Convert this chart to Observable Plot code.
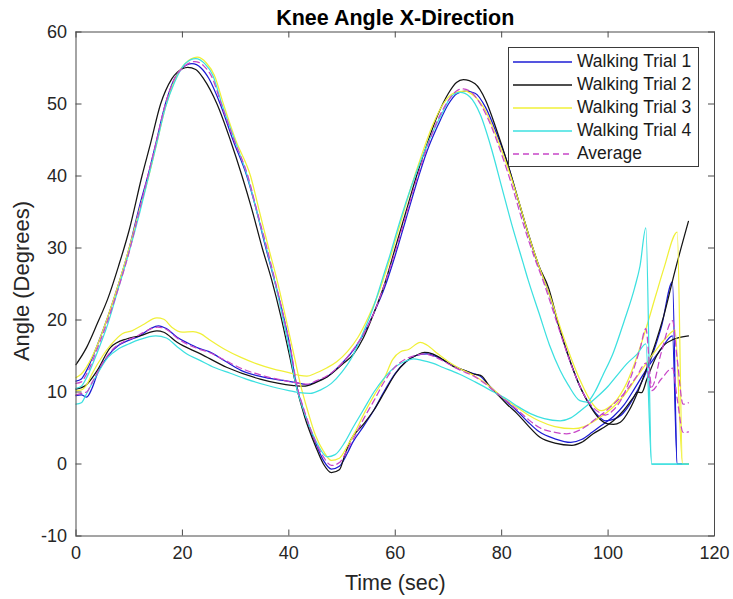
<!DOCTYPE html>
<html><head><meta charset="utf-8">
<script src="https://cdn.jsdelivr.net/npm/d3@7"></script>
<script src="https://cdn.jsdelivr.net/npm/@observablehq/plot@0.6"></script>
<style>
body{margin:0;background:#fff;}
#wrap{position:relative;width:733px;height:599px;font-family:"Liberation Sans",Arial,Helvetica,sans-serif;}
#legend{position:absolute;left:508px;top:47px;width:191px;height:120px;box-sizing:border-box;border:1px solid #3a3a3a;background:#fff;padding-top:2px;}
.row{display:flex;align-items:center;height:23px;}
.row svg{margin-left:4px;margin-right:5px;display:block;}
.row span{font-size:17.5px;color:#1a1a1a;white-space:nowrap;}
</style></head><body><div id="wrap"><div id="legend"></div></div>
<script>
// ---- data: [time (sec), angle (deg)] ----
const trial1P = [[0,11.5],[1,11.8],[2,13],[4,16.5],[6,20.5],[8,25],[10,30],[12,36],[13.5,40],[15,44.5],[16.8,50],[18.5,53.5],[20,55],[21.8,55.6],[23.5,55],[25,53.5],[27.1,50],[29.5,45],[32.1,40],[34,35],[35.5,30.5],[37.3,25.5],[39,20.5],[40.3,16],[41.3,11.4],[43,7],[45,3],[46.5,0.5],[48,-0.7],[49.5,-0.3],[51,1.5],[52,3],[54,5.2],[56,7.5],[58,10.2],[60,12.6],[62,14.2],[64,15.1],[66,15.3],[68,14.8],[70,14],[72,13.3],[74.5,12.6],[76,12.2],[77.5,11],[79,9.9],[81,8.6],[83,7.3],[85,5.8],[87,4.5],[90,3.5],[93,3.0],[95,3.4],[97,4.4],[99,5.5],[101,6.6],[103,8.2],[105,10.5],[106.5,12.3],[108,14],[110,16],[112.1,17.8],[113,0],[115.1,0]];
const trial1Q = [[0,9.5],[1,9.6],[2,9.3],[3,10.5],[4,12.5],[6,15],[8,16.5],[10,17.2],[12,17.8],[14,18.8],[15.5,19.2],[17,18.8],[19,17.6],[21,16.8],[23,16.1],[25,15.6],[28,14.3],[31,13],[35,12.1],[39,11.6],[42,11.2],[43.5,11],[45,11.4],[47.5,12.3],[50,14],[52.5,16.2],[54,18],[56,21],[58,24.5],[60,29],[62,34],[64,39],[66,43.5],[68,47],[70,50],[71.5,51.4],[73.1,51.8],[75,51.5],[77,49.5],[79,46],[81,42],[83,37],[85,32],[87,27.5],[89,23.5],[91,18.5],[93,14],[95,10.3],[96.5,8.3],[98,6.8],[99.5,6],[101,6.2],[102.5,6.8],[104,8.2],[105.5,10.2],[107,12.5],[108.5,15.5],[110,19],[112.1,25.3],[113,0],[115.1,0]];
const trial2P = [[0,13.8],[2,16.2],[4,19.5],[6,23],[8,27.5],[10,32.5],[12.4,40],[14,44.5],[15.9,50],[18,53.5],[20,54.9],[21,55.1],[22.5,54.8],[24,53.5],[26.5,50],[29,45],[31.2,40],[33,35.5],[35,30],[36.8,25.5],[38.5,20.5],[40,15.5],[41.2,11.4],[43,6.5],[45,2.5],[46.5,0],[48,-1.2],[49.5,-0.8],[50.5,1.2],[51.6,3.3],[54,5.5],[56,7.5],[58,10],[60,12.5],[62,14.2],[64,15.1],[65.5,15.5],[67,15.3],[69,14.5],[71,13.5],[73,13],[74.7,12.5],[75.5,12.4],[76.3,12.2],[77.5,11],[79.1,9.75],[81,8.3],[82.9,7],[85,5.3],[87.2,3.7],[90,2.9],[93.2,2.6],[95,3],[97.2,4.2],[99,5],[101,6.0],[103,7.5],[104.8,9.3],[105.5,10],[106.3,9.9],[107.3,11.8],[109.1,15],[110.5,16.5],[112.3,17.3],[115.1,17.8]];
const trial2Q = [[0,10.4],[1.8,10.9],[4,13],[6.5,16.2],[9.6,17.4],[12,17.8],[15.2,18.5],[16.5,18.3],[19,16.9],[23.4,15.3],[28.4,13.4],[34.6,11.8],[40.9,10.9],[42.8,10.8],[45,11.3],[47.2,12.1],[50,13.8],[52.2,15.3],[54,17.5],[56,21],[58,25],[60,30],[62,35],[64,40],[66,44.5],[68,48.5],[70,51.5],[71.5,53],[72.8,53.4],[75,52.8],[77,50.5],[79,46.5],[81,42],[83,37],[85,32],[87,27.5],[88.8,24.5],[91,18.5],[93,14],[95,10.3],[96.5,8.2],[98,6.6],[99.8,5.6],[101,5.5],[102.3,5.8],[104,7.5],[105.4,9.7],[107.3,13.4],[109,17],[110.4,20.4],[112.6,26.9],[115.1,33.7]];
const trial3P = [[0,12],[1,12.5],[2,13.5],[4,16.5],[6,20.5],[8,25],[10,30],[12,35.5],[13.5,39.5],[15,44],[16.8,49.5],[18.5,53.2],[20.5,55.6],[22.8,56.5],[24.5,55.7],[26,54],[27.7,50],[30,45],[32.8,40],[34.5,35],[36.2,30],[37.8,25.5],[39.5,20],[41,15],[42.2,11],[43.5,7.5],[45,4],[46.5,1.8],[48,0.5],[49.5,0.8],[51,2.5],[52.5,4.5],[54,6.8],[56,9.5],[58,12],[59.5,14.5],[61,15.6],[62.5,15.9],[64.7,16.9],[66,16.5],[68,15.3],[70,14.2],[72,13.3],[75,12.2],[77,11.2],[79,10],[81,8.8],[83,7.8],[85,6.8],[87,6],[90,5.2],[93.5,4.9],[95.5,5.2],[97.5,6],[99.5,7],[101.5,8.3],[103.5,10],[105.5,12.2],[107.5,14.3],[109.5,16.3],[111,17.6],[112.6,18.6],[114,0],[115.1,0]];
const trial3Q = [[0,10.2],[1,10.3],[2,11],[3,12.5],[5,15],[6.5,16.5],[8.7,18.1],[10.5,18.5],[12.5,19.3],[15.2,20.3],[16.5,20.1],[18,19],[20,18.3],[22,18.4],[23.4,18.1],[25,17.3],[28,15.9],[31,14.8],[34,13.9],[37,13.2],[40,12.7],[42,12.3],[43.4,12.2],[45,12.6],[47,13.3],[49,14.2],[51,15.6],[53,17.6],[55,20.5],[57,24],[59,28.5],[61,33.5],[63,38.5],[65,43],[67,47],[69,50],[71,51.5],[73,51.8],[75,51],[77,49],[79,45.5],[81,41.5],[83,37],[85,32],[87,27.5],[89,23.5],[91,19],[93,14.8],[95,11.2],[96.5,9],[98,7.6],[98.8,7.4],[100,7.8],[101.5,8.8],[103,10.5],[105,14],[107,18.5],[109,23.5],[110.5,27.2],[113,32.2],[114,0],[115.1,0]];
const trial4P = [[0,10.5],[1,10.8],[2,12],[4,15.5],[6,19.5],[8,24.5],[10,29.5],[12,35],[13.5,39.5],[15,44],[16.8,49.5],[18.5,53],[20.5,55.6],[22.5,56.3],[24.2,55.6],[25.7,54],[27.4,50],[29.8,45],[32.2,40],[34,35],[35.6,30.5],[37.3,25.5],[38.8,20.5],[40.2,15.5],[41.2,11.4],[42.5,8],[44,5],[45.5,2.6],[47.2,1],[48.7,1.3],[50.5,3],[52,5],[54,7.5],[56,10],[58,12],[60,13.5],[62,14.3],[63.4,14.6],[65,14.4],[67,14],[69,13.4],[72,12.5],[75,11.4],[78.5,10],[81,9],[83,8],[85.4,7],[88,6.3],[91,6],[93,6.4],[95,7.5],[97.9,9.3],[100,10.8],[102,12.6],[103.5,13.9],[105.5,15.3],[107.1,16.7],[108.2,0],[115.1,0]];
const trial4Q = [[0,8.3],[1,8.5],[2,9.8],[4,12.5],[6,14.8],[8,16],[10,16.7],[12,17.3],[15,17.8],[17,17.5],[19,16.3],[21,15.2],[23,14.5],[26,13.4],[29,12.6],[32,11.8],[36,10.9],[40,10.2],[42,9.9],[44,9.8],[46,10.3],[48,11.2],[50,12.8],[52,15],[54,18.3],[56,22],[57.5,25.5],[59,29],[61,34],[63,38.5],[65,42.5],[67,46],[69,49],[70.5,51],[72.2,51.6],[74,51],[76,48.5],[78,44],[80,38.5],[82,33],[84,28],[85,25.5],[87,21],[89,16.5],[91,13],[92.5,11],[94.7,8.8],[96,8.6],[97.5,10],[99,12.3],[101,15.5],[103,19.8],[105,24.5],[106,27.5],[107.1,32.8],[108.2,0],[115.1,0]];
const averageP = [[0,11.2],[1,11.4],[2,12.5],[4,16],[6,20],[8,24.5],[10,29.5],[12,35.5],[13.5,40],[15,44.5],[16.8,50],[18.5,53.5],[20.5,55.3],[22.3,55.9],[24,55.3],[25.5,53.8],[27.3,50],[29.7,45],[32.3,40],[34,35.2],[35.7,30.5],[37.4,25.5],[39,20.5],[40.4,15.8],[41.4,11.4],[43,7.2],[44.8,3.5],[46.5,1],[48,-0.2],[49.5,0.2],[51,2],[52.5,4],[54,6.2],[56,8.8],[58,11.5],[60,13.5],[62,14.6],[64,15.1],[65.5,15.3],[67,15],[69,14.3],[72,13.1],[75,12.1],[77,11.1],[79,9.9],[81,8.7],[83,7.5],[85,6.2],[87,5.1],[90,4.4],[92.2,4.2],[94,4.5],[96,5.3],[97.2,6],[99,7],[101,8.3],[103,9.8],[105.4,12.2],[107.1,14],[108.2,10.2],[110,11.8],[112.1,13.3],[113,9],[114.1,4.4],[115.1,4.45]];
const averageQ = [[0,9.6],[1,9.8],[2,10],[3,11.3],[5,14],[7,16],[9,17],[11,17.6],[13,18.4],[15.3,19],[17,18.7],[19,17.5],[21,16.6],[23,16],[25,15.5],[28,14.4],[31,13.3],[35,12.3],[39,11.6],[42,11.2],[43.5,11.1],[45,11.5],[47.5,12.4],[50,14],[52.5,16.3],[54,18],[56,21],[58,25],[60,29.5],[62,34.5],[64,39.5],[66,44],[68,47.8],[70,50.5],[71.5,51.8],[72.5,52.1],[74,51.8],[76,50],[78,47],[80,43],[82,38.5],[84,33.5],[86,29],[88,25],[90,20.5],[92,16],[94,12],[95.5,9.6],[97,8],[98.5,7.1],[99.5,6.8],[101,7.5],[102.5,9],[104,11.5],[106,16],[107.1,18.8],[108.2,10.7],[110,15.5],[112.1,19.9],[113,14.5],[114.1,8.3],[115.1,8.5]];

const seriesNames = ["Walking Trial 1","Walking Trial 2","Walking Trial 3","Walking Trial 4","Average"];
const seriesColors = ["#1c1cd4","#141414","#f0f038","#3ce0e0","#c846c8"];
const xTicks = [0,20,40,60,80,100,120];
const yTicks = [-10,0,10,20,30,40,50,60];
const titleText = "Knee Angle X-Direction";
const xLabel = "Time (sec)";
const yLabel = "Angle (Degrees)";

// ---- build ----
const curves = [
  [trial1P,0],[trial1Q,0],
  [trial2P,1],[trial2Q,1],
  [trial3P,2],[trial3Q,2],
  [trial4P,3],[trial4Q,3],
  [averageP,4],[averageQ,4]
];
const W=733,H=599,mL=75.5,mR=19,mT=31.5,mB=63.5;
const plotW=W-mL-mR, plotH=H-mT-mB;
const axisColor="#4a4a4a";
const FONT='"Liberation Sans",Arial,Helvetica,sans-serif';

const lineMarks = curves.map(([pts,i]) => Plot.line(pts, {
  x: d=>d[0], y: d=>d[1], stroke: seriesColors[i], strokeWidth: 1.25,
  strokeDasharray: i===4 ? "6,4" : null, curve: "monotone-x"
}));

const chart = Plot.plot({
  width:W, height:H, marginLeft:mL, marginRight:mR, marginTop:mT, marginBottom:mB,
  style:{fontFamily:FONT, fontSize:"18px", color:"#262626", background:"#fff", overflow:"visible"},
  x:{domain:[0,120]},
  y:{domain:[-10,60]},
  marks:[
    ...lineMarks,
    Plot.frame({stroke:axisColor, strokeWidth:1}),
    Plot.tickX(xTicks,{x:d=>d, insetTop:plotH-6, stroke:axisColor}),
    Plot.tickX(xTicks,{x:d=>d, insetBottom:plotH-6, stroke:axisColor}),
    Plot.tickY(yTicks,{y:d=>d, insetRight:plotW-6, stroke:axisColor}),
    Plot.tickY(yTicks,{y:d=>d, insetLeft:plotW-6, stroke:axisColor}),
    Plot.axisX(xTicks,{tickSize:0, tickPadding:10, fontSize:18, label:null, fill:"#262626", tickFormat:d=>String(d)}),
    Plot.axisY(yTicks,{tickSize:0, tickPadding:9, fontSize:18, label:null, fill:"#262626", tickFormat:d=>String(d)}),
    Plot.text([titleText],{text:d=>d, frameAnchor:"top", lineAnchor:"middle", textAnchor:"middle", dy:-14, fontWeight:"bold", fontSize:21.5, fill:"#000"}),
    Plot.text([xLabel],{text:d=>d, frameAnchor:"bottom", lineAnchor:"middle", textAnchor:"middle", dy:47.5, fontSize:21.5, fill:"#262626"}),
    Plot.text([yLabel],{text:d=>d, frameAnchor:"left", lineAnchor:"middle", textAnchor:"middle", dx:-54.5, dy:-3, rotate:-90, fontSize:22, fill:"#262626"})
  ]
});
const wrap=document.getElementById("wrap");
wrap.insertBefore(chart, wrap.firstChild);

// legend (HTML overlay)
const legend=document.getElementById("legend");
seriesNames.forEach((name,i)=>{
  const row=document.createElement("div"); row.className="row";
  const dash = i===4 ? ' stroke-dasharray="6,4"' : '';
  row.innerHTML = `<svg width="59" height="4"><line x1="0" y1="2" x2="59" y2="2" stroke="${seriesColors[i]}" stroke-width="1.3"${dash}/></svg><span>${name}</span>`;
  legend.appendChild(row);
});
</script>
</body></html>
